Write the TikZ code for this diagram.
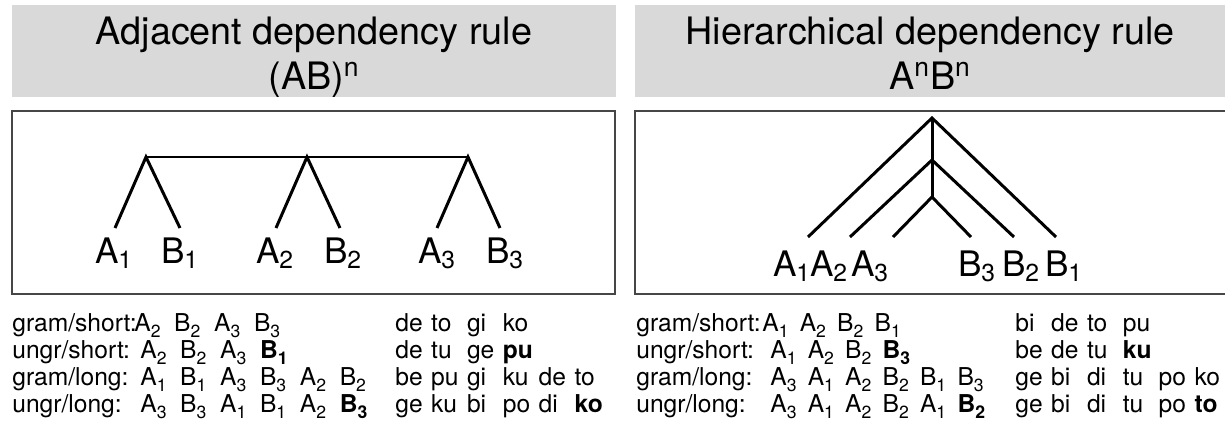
\documentclass[tikz,border=0pt]{standalone}
\usepackage{fontspec}
\setmainfont{TeX Gyre Heros}
\definecolor{headgray}{RGB}{217,217,217}
\definecolor{framegray}{RGB}{70,70,70}
\newlength{\tokw}
\newlength{\sylw}
\newcommand{\tk}[2]{\makebox[\tokw][l]{#1\raisebox{-0.5ex}{\fontsize{10}{10}\selectfont #2}}}
\newcommand{\sy}[1]{\makebox[\sylw][l]{#1}}
\tikzset{
  title/.style={font=\fontsize{21.5}{25.5}\selectfont, align=center, anchor=north, inner sep=0pt},
  frame/.style={draw=framegray, line width=1.6pt},
  branch/.style={line width=1.7pt},
  leaf/.style={font=\fontsize{20}{24}\selectfont, anchor=base, inner sep=0pt},
  row/.style={font=\fontsize{14}{17}\selectfont, anchor=base west, inner sep=0pt}
}

\begin{document}
\begin{tikzpicture}[x=0.2mm, y=-0.2mm]
  \useasboundingbox (0,0) rectangle (1225,445); % same window as the reference
  % header bars
  \fill[headgray] (12,5) rectangle (616,97);
  \fill[headgray] (635,5) rectangle (1225,97);
  \node[title] (adjtitle) at (314,17) {Adjacent dependency rule\\(AB)\textsuperscript{n}};
  \node[title] (hiertitle) at (930,17) {Hierarchical dependency rule\\A\textsuperscript{n}B\textsuperscript{n}};
  % frames
  \draw[frame] (12,111) rectangle (615,294);
  \draw[frame] (635,111) rectangle (1240,294);

  % adjacent tree
  \coordinate (r1) at (146,157);
  \coordinate (r2) at (307,157);
  \coordinate (r3) at (468,157);
  \coordinate (a1) at (115,228);
  \coordinate (b1) at (180,228);
  \coordinate (a2) at (276,228);
  \coordinate (b2) at (340,228);
  \coordinate (a3) at (437,228);
  \coordinate (b3) at (500,228);
  \draw[branch] (r1) -- (r3);
  \draw[branch] (a1) -- (r1) -- (b1);
  \draw[branch] (a2) -- (r2) -- (b2);
  \draw[branch] (a3) -- (r3) -- (b3);
  \node[leaf] (la1) at (114,263) {A\textsubscript{1}};
  \node[leaf] (lb1) at (180,263) {B\textsubscript{1}};
  \node[leaf] (la2) at (275,263) {A\textsubscript{2}};
  \node[leaf] (lb2) at (343,263) {B\textsubscript{2}};
  \node[leaf] (la3) at (437,263) {A\textsubscript{3}};
  \node[leaf] (lb3) at (505,263) {B\textsubscript{3}};

  % hierarchical tree
  \coordinate (t1) at (932,118);
  \coordinate (t2) at (932,160);
  \coordinate (t3) at (932,197);
  \coordinate (c1) at (808,237);
  \coordinate (c2) at (850,237);
  \coordinate (c3) at (893,237);
  \coordinate (d3) at (971,237);
  \coordinate (d2) at (1014,237);
  \coordinate (d1) at (1056,237);
  \draw[branch] (t1) -- (t3);
  \draw[branch] (c1) -- (t1) -- (d1);
  \draw[branch] (c2) -- (t2) -- (d2);
  \draw[branch] (c3) -- (t3) -- (d3);
  \node[leaf] (lc1) at (792,276) {A\textsubscript{1}};
  \node[leaf] (lc2) at (829,276) {A\textsubscript{2}};
  \node[leaf] (lc3) at (870,276) {A\textsubscript{3}};
  \node[leaf] (ld3) at (977,276) {B\textsubscript{3}};
  \node[leaf] (ld2) at (1021,276) {B\textsubscript{2}};
  \node[leaf] (ld1) at (1064,276) {B\textsubscript{1}};

  % test strings, adjacent
  \setlength{\tokw}{22.7pt}
  \setlength{\sylw}{20.4pt}
  \node[row] (gs1) at (12,331) {gram/short:};
  \node[row] (us1) at (12,358) {ungr/short:};
  \node[row] (gl1) at (12,385) {gram/long:};
  \node[row] (ul1) at (12,412) {ungr/long:};
  \node[row] (gsq1) at (134,331) {\tk{A}{2}\tk{B}{2}\tk{A}{3}\tk{B}{3}};
  \node[row] (usq1) at (140,358) {\tk{A}{2}\tk{B}{2}\tk{A}{3}\textbf{\tk{B}{1}}};
  \node[row] (glq1) at (140,385) {\tk{A}{1}\tk{B}{1}\tk{A}{3}\tk{B}{3}\tk{A}{2}\tk{B}{2}};
  \node[row] (ulq1) at (140,412) {\tk{A}{3}\tk{B}{3}\tk{A}{1}\tk{B}{1}\tk{A}{2}\textbf{\tk{B}{3}}};
  \node[row] (gsy1) at (395,331) {\sy{de}\sy{to}\sy{gi}\sy{ko}};
  \node[row] (usy1) at (395,358) {\sy{de}\sy{tu}\sy{ge}\sy{\textbf{pu}}};
  \node[row] (gly1) at (395,385) {\sy{be}\sy{pu}\sy{gi}\sy{ku}\sy{de}\sy{to}};
  \node[row] (uly1) at (395,412) {\sy{ge}\sy{ku}\sy{bi}\sy{po}\sy{di}\sy{\textbf{ko}}};

  % test strings, hierarchical
  \setlength{\tokw}{21.3pt}
  \node[row] (gs2) at (636,331) {gram/short:};
  \node[row] (us2) at (636,358) {ungr/short:};
  \node[row] (gl2) at (636,385) {gram/long:};
  \node[row] (ul2) at (636,412) {ungr/long:};
  \node[row] (gsq2) at (762,331) {\tk{A}{1}\tk{A}{2}\tk{B}{2}\tk{B}{1}};
  \node[row] (usq2) at (770,358) {\tk{A}{1}\tk{A}{2}\tk{B}{2}\textbf{\tk{B}{3}}};
  \node[row] (glq2) at (770,385) {\tk{A}{3}\tk{A}{1}\tk{A}{2}\tk{B}{2}\tk{B}{1}\tk{B}{3}};
  \node[row] (ulq2) at (770,412) {\tk{A}{3}\tk{A}{1}\tk{A}{2}\tk{B}{2}\tk{A}{1}\textbf{\tk{B}{2}}};
  \node[row] (gsy2) at (1015,331) {\sy{bi}\sy{de}\sy{to}\sy{pu}};
  \node[row] (usy2) at (1015,358) {\sy{be}\sy{de}\sy{tu}\sy{\textbf{ku}}};
  \node[row] (gly2) at (1015,385) {\sy{ge}\sy{bi}\sy{di}\sy{tu}\sy{po}\sy{ko}};
  \node[row] (uly2) at (1015,412) {\sy{ge}\sy{bi}\sy{di}\sy{tu}\sy{po}\sy{\textbf{to}}};
\end{tikzpicture}
\end{document}
